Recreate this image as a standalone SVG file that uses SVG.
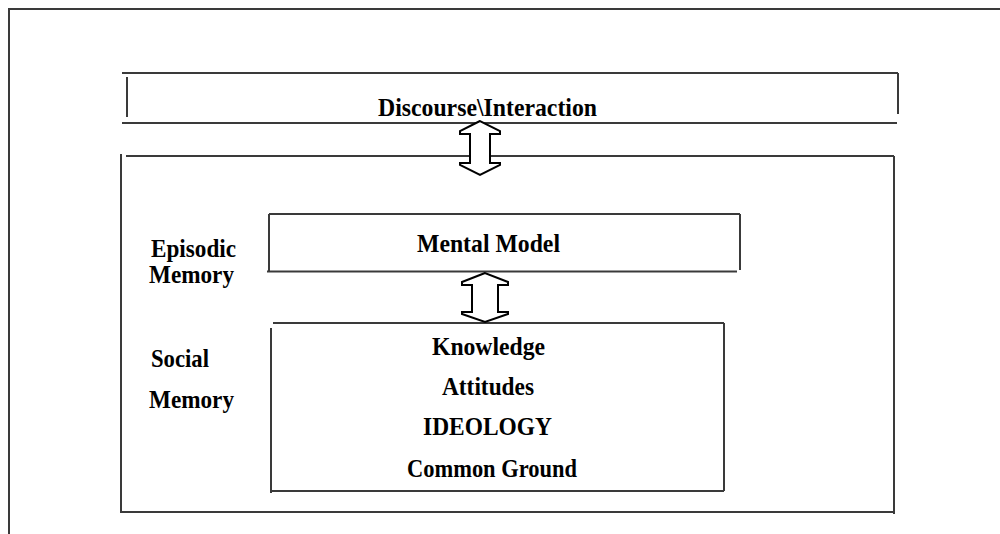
<svg xmlns="http://www.w3.org/2000/svg" width="1000" height="534" viewBox="0 0 1000 534">
  <style>
    .ln { stroke: #3a3a3a; stroke-width: 2; fill: none; }
    .arr { fill: #ffffff; stroke: #000000; stroke-width: 2; stroke-linejoin: miter; }
    .t { font-family: "Liberation Serif", "Times New Roman", serif; font-weight: bold; font-size: 25px; fill: #000000; }
  </style>
  <rect x="0" y="0" width="1000" height="534" fill="#ffffff"/>

  <!-- page frame -->
  <g id="frame">
    <line class="ln" x1="8" y1="9" x2="1000" y2="9"/>
    <line class="ln" x1="9" y1="9" x2="9" y2="534"/>
  </g>

  <!-- discourse / interaction band -->
  <g id="discourse">
    <line class="ln" x1="122" y1="73" x2="898" y2="73"/>
    <line class="ln" x1="127" y1="77" x2="127" y2="117"/>
    <line class="ln" x1="898" y1="73" x2="898" y2="114"/>
    <line class="ln" x1="122" y1="123" x2="897" y2="123"/>
    <text class="t" x="378" y="116" textLength="219" lengthAdjust="spacingAndGlyphs">Discourse\Interaction</text>
  </g>

  <!-- cognition frame -->
  <g id="cognition">
    <line class="ln" x1="126" y1="156" x2="894" y2="156"/>
    <line class="ln" x1="121" y1="154" x2="121" y2="512"/>
    <line class="ln" x1="120" y1="512" x2="894" y2="512"/>
    <line class="ln" x1="894" y1="156" x2="894" y2="514"/>
  </g>

  <!-- memory labels -->
  <g id="episodic-label">
    <text class="t" x="151" y="257" textLength="85" lengthAdjust="spacingAndGlyphs">Episodic</text>
    <text class="t" x="149" y="283" textLength="85" lengthAdjust="spacingAndGlyphs">Memory</text>
  </g>
  <g id="social-label">
    <text class="t" x="151" y="367" textLength="58" lengthAdjust="spacingAndGlyphs">Social</text>
    <text class="t" x="149" y="408" textLength="85" lengthAdjust="spacingAndGlyphs">Memory</text>
  </g>

  <!-- mental model -->
  <g id="mental-model">
    <line class="ln" x1="269" y1="214" x2="740" y2="214"/>
    <line class="ln" x1="269" y1="214" x2="269" y2="271"/>
    <line class="ln" x1="740" y1="214" x2="740" y2="270"/>
    <line class="ln" x1="267" y1="271.5" x2="737" y2="271.5"/>
    <text class="t" x="417" y="252" textLength="143" lengthAdjust="spacingAndGlyphs">Mental Model</text>
  </g>

  <!-- social memory contents -->
  <g id="social-memory">
    <line class="ln" x1="273" y1="323" x2="724" y2="323"/>
    <line class="ln" x1="271" y1="328" x2="271" y2="493"/>
    <line class="ln" x1="724" y1="323" x2="724" y2="491"/>
    <line class="ln" x1="271" y1="491" x2="724" y2="491"/>
    <text class="t" x="432" y="355" textLength="113" lengthAdjust="spacingAndGlyphs">Knowledge</text>
    <text class="t" x="442" y="395" textLength="92" lengthAdjust="spacingAndGlyphs">Attitudes</text>
    <text class="t" x="423" y="435" textLength="129" lengthAdjust="spacingAndGlyphs">IDEOLOGY</text>
    <text class="t" x="407" y="477" textLength="170" lengthAdjust="spacingAndGlyphs">Common Ground</text>
  </g>

  <!-- two-way block arrows -->
  <g id="connectors">
    <polygon class="arr" points="480,121 460,131 460,134 470,134 470,163 460,163 460,165 480,175 500,165 500,163 490,163 490,134 500,134 500,131"/>
    <polygon class="arr" points="485,273 462,282 462,285 472,285 472,312 462,312 462,314 485,322 508,314 508,312 498,312 498,285 508,285 508,282"/>
  </g>
</svg>
